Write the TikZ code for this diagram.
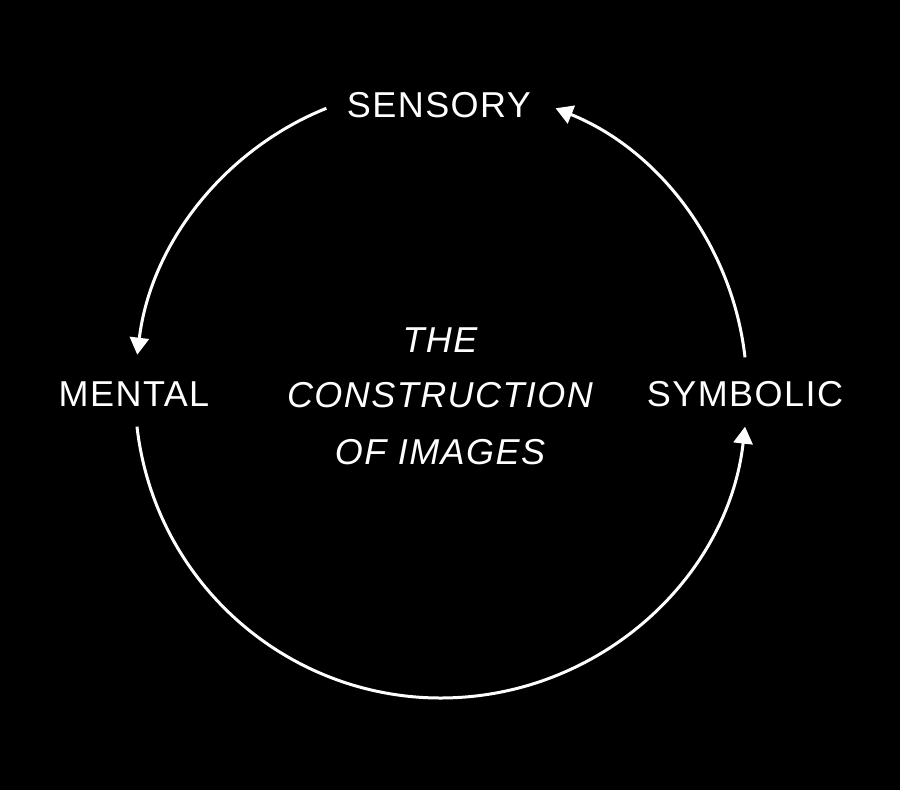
\documentclass[tikz,border=0pt]{standalone}
\usepackage{fontspec}
\setmainfont{Liberation Sans}[LetterSpace=4]
\usetikzlibrary{arrows.meta}
\begin{document}
\begin{tikzpicture}[x=1pt,y=1pt,
  lbl/.style={text=white,font=\fontsize{36}{40}\selectfont,inner sep=0pt,anchor=base},
  ttl/.style={text=white,font=\fontsize{36}{40}\selectfont\itshape,inner sep=0pt,anchor=base},
  cyc/.style={draw=white,line width=3pt,-{Triangle[length=17pt,width=19pt]}}]
\fill[black] (0,0) rectangle (900,790);
\useasboundingbox (0,0) rectangle (900,790);
\coordinate (c) at (441,398);
\node[lbl] (sensory) at (439,672) {SENSORY};
\node[lbl] (mental) at (134,383) {MENTAL};
\node[lbl] (symbolic) at (745,383) {SYMBOLIC};
\node[ttl] (the) at (440,437) {THE};
\node[ttl] (constr) at (440,382) {CONSTRUCTION};
\node[ttl] (images) at (440,325) {OF IMAGES};
\coordinate (s1) at ([shift={(112:306)}]c);
\coordinate (m2) at ([shift={(186.5:306)}]c);
\coordinate (y1) at ([shift={(6.5:306)}]c);
\draw[cyc] (s1) arc[start angle=112, end angle=173, radius=306];
\draw[cyc] (m2) arc[start angle=186.5, end angle=353.5, radius=306];
\draw[cyc] (y1) arc[start angle=6.5, end angle=68, radius=306];
\end{tikzpicture}
\end{document}
